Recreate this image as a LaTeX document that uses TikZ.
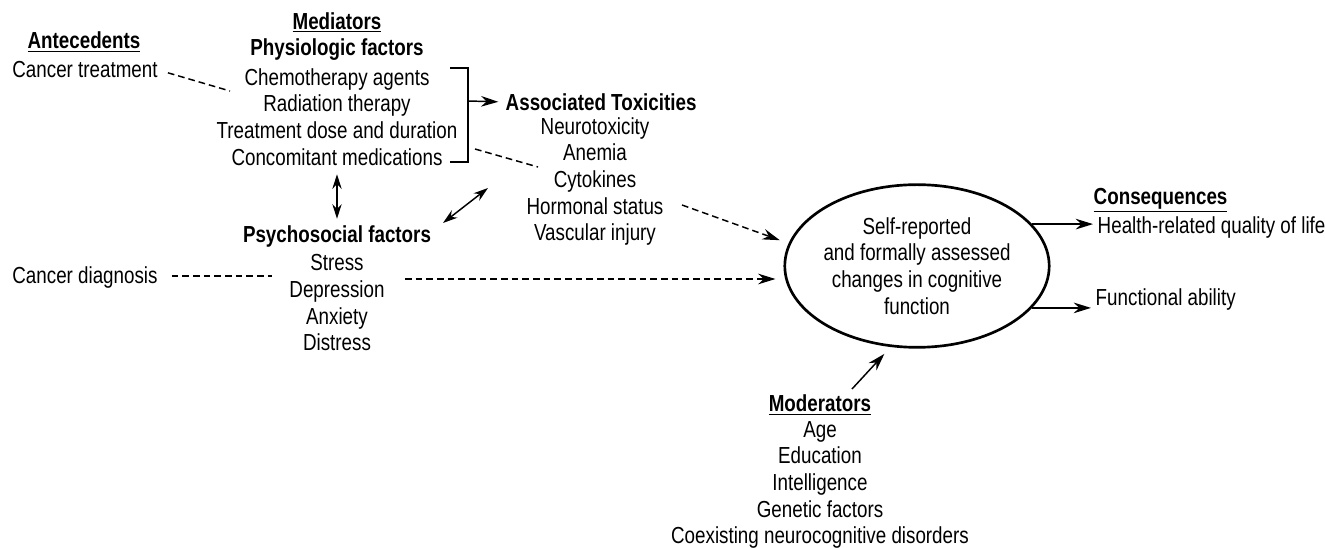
\documentclass[tikz,border=0pt]{standalone}
\usepackage{fontspec}
\setmainfont{Liberation Sans}[FakeStretch=0.81]
\usetikzlibrary{arrows.meta,shapes.geometric}

\tikzset{every picture/.style={line width=1.1pt}}
\tikzset{
  txt/.style={inner sep=0pt, align=center, font=\fontsize{17.4}{20}\selectfont},
  dashln/.style={dash pattern=on 5pt off 3pt},
  tip/.style={-{Stealth[length=13pt,width=8pt]}},
  twotip/.style={{Stealth[length=11pt,width=7pt]}-{Stealth[length=11pt,width=7pt]}},
}

\begin{document}
\begin{tikzpicture}[x=0.75pt,y=0.75pt,yscale=-1,xscale=1]
\useasboundingbox (0,0) rectangle (1325,548);

% Text Node
\node [txt] (ante) at (84,42) {\textbf{\underline{Antecedents}}};
% Text Node
\node [txt] (ctreat) at (85,70) {Cancer treatment};
% Text Node
\node [txt] (cdiag) at (85,278) {Cancer diagnosis};

% Text Node
\node [txt] (med) at (337,36.5) {\textbf{\underline{Mediators}}\\ \textbf{Physiologic factors}};
% Text Node
\node [txt] (physio) at (337,117) {Chemotherapy agents\\ Radiation therapy\\ Treatment dose and duration\\ Concomitant medications};
% Text Node
\node [txt] (psy) at (337,237) {\textbf{Psychosocial factors}};
% Text Node
\node [txt] (psylist) at (337,303) {Stress\\ Depression\\ Anxiety\\ Distress};

% Text Node
\node [txt, anchor=west] (assoc) at (505,102) {\textbf{Associated Toxicities}};
% Text Node
\node [txt] (tox) at (595,181.5) {Neurotoxicity\\ Anemia\\ Cytokines\\ Hormonal status\\ Vascular injury};

%Shape: Ellipse
\node [txt, ellipse, draw, line width=2pt, minimum width=169.5pt, minimum height=122pt] (cog) at (917,266) {Self-reported\\ and formally assessed\\ changes in cognitive\\ function};

% Text Node
\node [txt, anchor=west] (cons) at (1093,200) {\textbf{\underline{Consequences}}};
% Text Node
\node [txt, anchor=west] (hrq) at (1097,228) {Health-related quality of life};
% Text Node
\node [txt, anchor=west] (func) at (1095,300) {Functional ability};

% Text Node
\node [txt] (mod) at (820,405) {\textbf{\underline{Moderators}}};
% Text Node
\node [txt] (modlist) at (820,485) {Age\\ Education\\ Intelligence\\ Genetic factors\\ Coexisting neurocognitive disorders};

% free ends of the loose connectors
\coordinate (ctend) at (230,91);
\coordinate (cmA) at (475,149);
\coordinate (cmB) at (538,167);
\coordinate (brkA) at (450,68);
\coordinate (brkB) at (450,162);
\coordinate (brk) at (468,101);
\coordinate (diagA) at (443,223);
\coordinate (diagB) at (488,188);
\coordinate (hs) at (682,205);
\coordinate (psyln) at (405,279);
\coordinate (modtip) at (852,389);

%Bracket round the physiologic factors
\draw (brkA) -- ++(18,0) |- (brkB);
\draw [tip, shorten >=5pt] (brk) -- (assoc.west);

%Dashed Lines
\draw [dashln, shorten <=7.5pt] (ctreat.east) -- (ctend);
\draw [dashln] (cmA) -- (cmB);
\draw [dashln] ([xshift=10pt,yshift=-1.5pt]cdiag.east) -- ++(75pt,0);
\draw [dashln, tip, shorten >=6pt] (psyln) -- (psyln -| cog.west);
\draw [dashln, tip, shorten >=7pt] (hs) -- (cog.170);

%Double Arrows
\draw [twotip, shorten <=6pt, shorten >=5pt] (physio.south) -- (psy.north);
\draw [twotip] (diagA) -- (diagB);

%Straight Lines
\draw [tip, shorten >=7pt] (modtip) -- (cog.252);
\draw [tip, shorten >=3pt] (cog.20) -- (cog.20 -| hrq.west);
\draw [tip, shorten >=3pt] (cog.-20) -- (cog.-20 -| func.west);

\end{tikzpicture}
\end{document}
